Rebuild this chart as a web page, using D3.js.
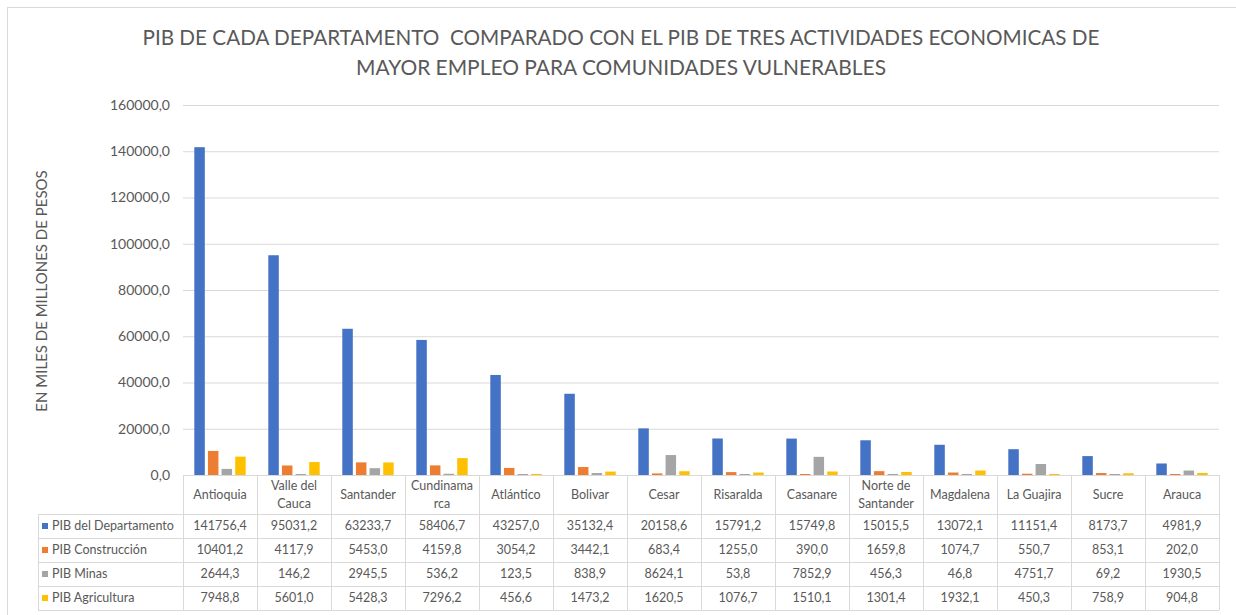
<!DOCTYPE html>
<html>
<head>
<meta charset="utf-8">
<script src="https://cdn.jsdelivr.net/npm/d3@7"></script>
<style>
  body { margin: 0; background: #fff; }
  svg { display: block; font-family: Lato, "Open Sans", sans-serif; }
  text { fill: #595959; white-space: pre; }
</style>
</head>
<body>
<svg id="chart" width="1236" height="615"></svg>
<script>
const categories = ['Antioquia', 'Valle del Cauca', 'Santander', 'Cundinamarca', 'Atlántico',
  'Bolivar', 'Cesar', 'Risaralda', 'Casanare', 'Norte de Santander', 'Magdalena',
  'La Guajira', 'Sucre', 'Arauca'];
// how the header cells wrap the names
const categoryLines = [['Antioquia'], ['Valle del', 'Cauca'], ['Santander'], ['Cundinama', 'rca'],
  ['Atlántico'], ['Bolivar'], ['Cesar'], ['Risaralda'], ['Casanare'], ['Norte de', 'Santander'],
  ['Magdalena'], ['La Guajira'], ['Sucre'], ['Arauca']];

const seriesNames = ['PIB del Departamento', 'PIB Construcción', 'PIB Minas', 'PIB Agricultura'];
const departamento = [141756.4, 95031.2, 63233.7, 58406.7, 43257.0, 35132.4, 20158.6,
  15791.2, 15749.8, 15015.5, 13072.1, 11151.4, 8173.7, 4981.9];
const construccion = [10401.2, 4117.9, 5453.0, 4159.8, 3054.2, 3442.1, 683.4,
  1255.0, 390.0, 1659.8, 1074.7, 550.7, 853.1, 202.0];
const minas = [2644.3, 146.2, 2945.5, 536.2, 123.5, 838.9, 8624.1,
  53.8, 7852.9, 456.3, 46.8, 4751.7, 69.2, 1930.5];
const agricultura = [7948.8, 5601.0, 5428.3, 7296.2, 456.6, 1473.2, 1620.5,
  1076.7, 1510.1, 1301.4, 1932.1, 450.3, 758.9, 904.8];

const yTicks = [0, 20000, 40000, 60000, 80000, 100000, 120000, 140000, 160000];

const titleLines = ['PIB DE CADA DEPARTAMENTO  COMPARADO CON EL PIB DE TRES ACTIVIDADES ECONOMICAS DE',
  'MAYOR EMPLEO PARA COMUNIDADES VULNERABLES'];
const yTitle = 'EN MILES DE MILLONES DE PESOS';

const colors = ['#4472C4', '#ED7D31', '#A5A5A5', '#FFC000'];
const series = [departamento, construccion, minas, agricultura];

const svg = d3.select('#chart');
const gridColor = '#d9d9d9';

const plotLeft = 183, plotRight = 1219, plotTop = 105, base = 475, tableBottom = 610, labelLeft = 38;

const locale = d3.formatLocale({decimal: ',', thousands: '', grouping: [3], currency: ['', '']});
const fmt = locale.format('.1f');

// chart frame (runs off the right and bottom of the picture)
svg.append('rect')
  .attr('x', 7.5).attr('y', 7.5)
  .attr('width', 1250).attr('height', 620)
  .attr('fill', 'none').attr('stroke', gridColor);

// shrink text to the width it has in the reference
const fit = (sel, w) => sel.each(function() {
  if (this.getComputedTextLength() > w) {
    d3.select(this).attr('textLength', w).attr('lengthAdjust', 'spacingAndGlyphs');
  }
});

// title
svg.selectAll('text.title')
  .data(titleLines)
  .enter()
  .append('text')
  .attr('class', 'title')
  .attr('x', 621)
  .attr('y', (d, i) => 45 + i * 30)
  .attr('text-anchor', 'middle')
  .style('font-size', '21px')
  .text(d => d)
  .each(function(d, i) { fit(d3.select(this), [957, 530][i]); });

// y axis title
svg.append('text')
  .attr('transform', 'translate(47,291) rotate(-90)')
  .attr('text-anchor', 'middle')
  .style('font-size', '15px')
  .text(yTitle)
  .call(fit, 243);

const yScale = d3.scaleLinear()
  .domain([0, 160000])
  .range([base, plotTop]);

const x0 = d3.scaleBand()
  .domain(categories)
  .range([plotLeft, plotRight]);

const x1 = d3.scaleBand()
  .domain(seriesNames)
  .range([0, x0.bandwidth()])
  .paddingInner(0.23)
  .paddingOuter(0.83);

// gridlines and tick labels
const yAxis = svg.append('g')
  .attr('transform', 'translate(' + plotLeft + ',0)')
  .call(d3.axisLeft(yScale).tickValues(yTicks).tickFormat(fmt)
    .tickSize(-(plotRight - plotLeft)).tickPadding(13));
yAxis.select('.domain').remove();
yAxis.selectAll('.tick line').attr('stroke', gridColor);
yAxis.selectAll('.tick text')
  .style('font-family', 'Lato, sans-serif')
  .style('font-size', '14px')
  .attr('fill', '#595959');

// bars
const groups = svg.append('g')
  .selectAll('g')
  .data(series)
  .enter()
  .append('g')
  .attr('fill', (d, i) => colors[i]);

groups.each(function(values, si) {
  d3.select(this).selectAll('rect')
    .data(values)
    .enter()
    .append('rect')
    .attr('x', (d, ci) => x0(categories[ci]) + x1(seriesNames[si]))
    .attr('width', x1.bandwidth())
    .attr('y', d => Math.min(yScale(d), base - 1))
    .attr('height', d => Math.max(1, base - yScale(d)));
});

// data table
const rowScale = d3.scaleBand()
  .domain(seriesNames)
  .range([514, tableBottom]);

const table = svg.append('g')
  .attr('stroke', gridColor)
  .attr('fill', 'none');

// horizontal lines
table.append('line')
  .attr('x1', plotLeft).attr('x2', plotRight)
  .attr('y1', base + 0.5).attr('y2', base + 0.5);
seriesNames.forEach(s => {
  table.append('line')
    .attr('x1', labelLeft).attr('x2', plotRight)
    .attr('y1', rowScale(s) + 0.5).attr('y2', rowScale(s) + 0.5);
});
table.append('line')
  .attr('x1', labelLeft).attr('x2', plotRight)
  .attr('y1', tableBottom + 0.5).attr('y2', tableBottom + 0.5);

// vertical lines
table.append('line')
  .attr('x1', labelLeft + 0.5).attr('x2', labelLeft + 0.5)
  .attr('y1', rowScale(seriesNames[0])).attr('y2', tableBottom);
categories.concat(['end']).forEach((c, i) => {
  const x = (i < categories.length ? x0(c) : plotRight) + 0.5;
  table.append('line')
    .attr('x1', x).attr('x2', x)
    .attr('y1', base).attr('y2', tableBottom);
});

// header labels
const header = svg.append('g')
  .selectAll('text')
  .data(categoryLines)
  .enter()
  .append('text')
  .attr('text-anchor', 'middle')
  .style('font-size', '12.5px')
  .attr('x', (d, i) => x0(categories[i]) + x0.bandwidth() / 2)
  .attr('y', d => (base + 514) / 2 + 4.5 - (d.length - 1) * 9);
header.selectAll('tspan')
  .data(d => d)
  .enter()
  .append('tspan')
  .attr('x', function() { return this.parentNode.getAttribute('x'); })
  .attr('dy', (d, i) => i === 0 ? 0 : 18)
  .text(d => d);

// row labels with legend keys
const rows = svg.append('g')
  .selectAll('g')
  .data(seriesNames)
  .enter()
  .append('g')
  .attr('transform', d => 'translate(0,' + (rowScale(d) + rowScale.bandwidth() / 2) + ')');
rows.append('rect')
  .attr('x', 42).attr('y', -3)
  .attr('width', 6).attr('height', 6)
  .attr('fill', (d, i) => colors[i]);
rows.append('text')
  .attr('x', 52)
  .attr('dy', '0.35em')
  .style('font-size', '12.5px')
  .text(d => d);

// values
rows.each(function(name, si) {
  d3.select(this).selectAll('text.val')
    .data(series[si])
    .enter()
    .append('text')
    .attr('class', 'val')
    .attr('text-anchor', 'middle')
    .attr('x', (d, ci) => x0(categories[ci]) + x0.bandwidth() / 2)
    .attr('dy', '0.35em')
    .style('font-size', '12.5px')
    .text(d => fmt(d));
});
</script>
</body>
</html>
